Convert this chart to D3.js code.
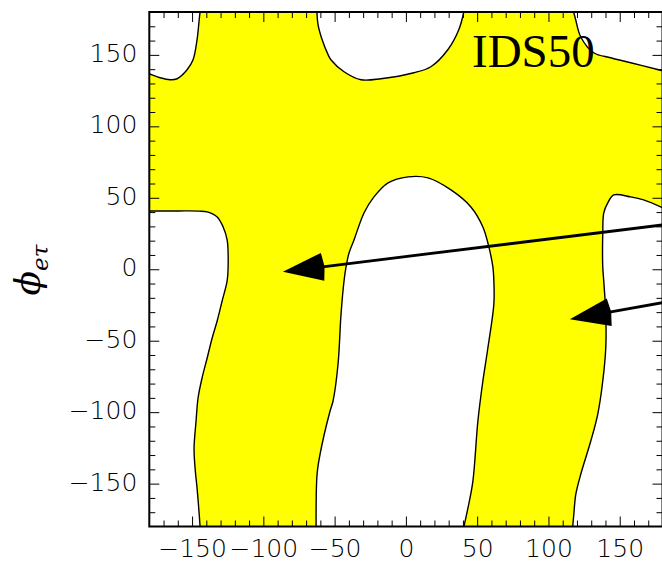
<!DOCTYPE html>
<html>
<head>
<meta charset="utf-8">
<script src="https://cdn.jsdelivr.net/npm/d3@7"></script>
<style>
  body { margin: 0; background: #fff; }
  .tick text { font-family: "DejaVu Sans", sans-serif; font-weight: 200; font-size: 25px; fill: #000; }
  .tick line { stroke: #000; stroke-width: 1; }
</style>
</head>
<body>
<svg id="plot" width="662" height="562"></svg>
<script>
    // Allowed (yellow) vs excluded (white) region in the (phi, phi_e_tau) plane
    // Each white region is a boundary, in degrees

    const majorTicks = [-150, -100, -50, 0, 50, 100, 150];
    const minorTicks = [-170, -160, -140, -130, -120, -110, -90, -80, -70, -60, -40, -30, -20, -10,
                        10, 20, 30, 40, 60, 70, 80, 90, 110, 120, 130, 140, 160, 170];

    // top-left white corner
    const regionA = [[-144.4, 180], [-145, 174.6], [-146.5, 160.6], [-149.3, 146.6], [-153.5, 139.6],
                     [-160.5, 133.3], [-165.4, 132.6], [-172.4, 134], [-178, 136], [-180, 136.8]];
    const cornersA = [[-180, 180]];

    // top-middle white cap
    const regionB = [[-62.4, 180], [-61.6, 171], [-58.8, 160.7], [-54.6, 150.2], [-52.6, 146.6],
                     [-43.4, 138.2], [-31.5, 132.6], [-17.5, 133.3], [5.6, 137.5], [17.5, 141.7],
                     [29.4, 153.6], [37.1, 167.6], [40.6, 180]];
    const cornersB = [];

    // top-right white corner
    const regionC = [[117.7, 180], [119.1, 174.6], [122.6, 162.7], [131.7, 151.5], [143.7, 148],
                     [157.7, 144.5], [177.3, 139.6], [180, 139]];
    const cornersC = [[180, 180]];

    // left white band
    const regionD = [[-180, 40.8], [-160, 40.8], [-145, 40.7], [-139.4, 40.1], [-132.4, 36.6],
                     [-128.2, 29.6], [-125.4, 20.5], [-124.7, 1.6], [-125.4, -8.2], [-128.9, -22.2],
                     [-132.4, -36.2], [-135.9, -48.1], [-139.4, -62.1], [-143, -76.1], [-145.8, -90.1],
                     [-147.2, -106.2], [-148.6, -125.1], [-147.9, -139.1], [-146.5, -153.1],
                     [-145, -171.4], [-144.4, -180]];
    const cornersD = [[-180, -180]];

    // central white tongue
    const regionE = [[-63, -180], [-62.3, -143.3], [-60.2, -129.3], [-53.2, -99.2], [-51.1, -92.2],
                     [-47.6, -66.3], [-45.5, -31.3], [-43.4, -8.2], [-42, 1.6], [-39.9, 11.4],
                     [-36.4, 20.5], [-29.4, 39.4], [-22.4, 50.6], [-12.5, 60.4], [1.5, 64.6],
                     [15.5, 63.9], [31.6, 55.5], [45.6, 43.6], [54, 29.6], [58.2, 15.6], [61, 1.6],
                     [61.7, -8.2], [61.7, -24.3], [57.5, -55.1], [54, -78.2], [50.5, -106.2],
                     [47, -148.2], [43.5, -167.2], [40.7, -180]];
    const cornersE = [];

    // right white band
    const regionF = [[117, -180], [117.8, -171.4], [119.2, -157.4], [122.7, -143.3], [129.7, -120.2],
                     [134.6, -101.3], [138.1, -78.2], [140.2, -55.1], [140.2, -31.3], [138.8, -8.2],
                     [138.1, 1.6], [138.1, 25.4], [138.8, 39.4], [141.6, 46.4], [145.8, 52],
                     [157.7, 50.6], [166.8, 48.5], [180, 43]];
    const cornersF = [[180, -180]];

    // arrows: tail (at right edge) -> tip
    const arrowTails = [[180, 31], [180, -23.4]];
    const arrowTips = [[-86.3, -1.7], [115, -35]];

    const panelLabel = "IDS50";

    // 0. svg + scales
    let svg = d3.select("svg#plot");
    let x = d3.scaleLinear().domain([-180, 180]).range([149.3, 662.5]);
    let y = d3.scaleLinear().domain([-180, 180]).range([526.5, 12]);

    svg.append("clipPath").attr("id", "clip")
      .append("rect")
      .attr("x", x(-180)).attr("y", y(180))
      .attr("width", x(180) - x(-180)).attr("height", y(-180) - y(180));

    let plot = svg.append("g").attr("clip-path", "url(#clip)");

    // 1. yellow background = allowed region
    plot.append("rect")
      .attr("x", x(-180)).attr("y", y(180))
      .attr("width", x(180) - x(-180)).attr("height", y(-180) - y(180))
      .style("fill", "#ffff00");

    // 2. white regions with black contour
    let curve = d3.line().x(d => x(d[0])).y(d => y(d[1])).curve(d3.curveCatmullRom.alpha(0.5));
    let regions = [[regionA, cornersA], [regionB, cornersB], [regionC, cornersC],
                   [regionD, cornersD], [regionE, cornersE], [regionF, cornersF]];

    regions.forEach(r => {
      let pts = r[0], corners = r[1];
      let fillPath = curve(pts) + corners.map(c => "L" + x(c[0]) + "," + y(c[1])).join("") + "Z";
      plot.append("path").attr("d", fillPath).style("fill", "#fff").style("stroke", "none");
    });
    regions.forEach(r => {
      plot.append("path").attr("d", curve(r[0]))
        .style("fill", "none").style("stroke", "#000").style("stroke-width", 1.4);
    });

    // 3. arrows (shaft + filled head, head built in pixel space)
    arrowTips.forEach((tip, i) => {
      let tail = arrowTails[i];
      let tx = x(tip[0]), ty = y(tip[1]);
      let sx = x(tail[0]), sy = y(tail[1]);
      let len = Math.hypot(sx - tx, sy - ty);
      let ux = (sx - tx) / len, uy = (sy - ty) / len;
      let headLen = 40, headHalf = 14;
      let bx = tx + ux * headLen, by = ty + uy * headLen;

      plot.append("line")
        .attr("x1", sx + ux * 20).attr("y1", sy + uy * 20)
        .attr("x2", bx - ux * 4).attr("y2", by - uy * 4)
        .style("stroke", "#000").style("stroke-width", 2.8);

      plot.append("path")
        .attr("d", "M" + tx + "," + ty +
                   "L" + (bx - uy * headHalf) + "," + (by + ux * headHalf) +
                   "L" + (bx + ux * 2) + "," + (by + uy * 2) +
                   "L" + (bx + uy * headHalf) + "," + (by - ux * headHalf) + "Z")
        .style("fill", "#000");
    });

    // 4. panel label
    svg.append("text")
      .attr("x", 472).attr("y", 67)
      .style("font-family", "'Liberation Serif', 'Times New Roman', serif")
      .style("font-size", "47px")
      .text(panelLabel);

    // 5. axes -- ticks point inward on all four sides
    function addAxis(axisFn, scale, transform, values, size, labels) {
      let ax = axisFn(scale).tickValues(values).tickSize(-size).tickSizeOuter(0);
      if (labels) ax.tickPadding(labels).tickFormat(d3.format("d"));
      else ax.tickFormat("");
      let g = svg.append("g").attr("transform", transform).call(ax);
      g.select(".domain").remove();
      return g;
    }

    let left = addAxis(d3.axisLeft, y, "translate(" + x(-180) + ",0)", majorTicks, 10, 12);
    left.selectAll("text").attr("dy", "0.26em");
    addAxis(d3.axisLeft, y, "translate(" + x(-180) + ",0)", minorTicks, 6);
    addAxis(d3.axisBottom, x, "translate(0," + y(-180) + ")", majorTicks, 10, 13);
    addAxis(d3.axisBottom, x, "translate(0," + y(-180) + ")", minorTicks, 6);
    addAxis(d3.axisTop, x, "translate(0," + y(180) + ")", majorTicks, 10);
    addAxis(d3.axisTop, x, "translate(0," + y(180) + ")", minorTicks, 6);
    addAxis(d3.axisRight, y, "translate(" + x(180) + ",0)", majorTicks, 10);
    addAxis(d3.axisRight, y, "translate(" + x(180) + ",0)", minorTicks, 6);

    // frame
    svg.append("rect")
      .attr("x", x(-180)).attr("y", y(180))
      .attr("width", x(180) - x(-180)).attr("height", y(-180) - y(180))
      .style("fill", "none").style("stroke", "#000").style("stroke-width", 2);

    // 6. y axis label  phi_{e tau}
    let ylab = svg.append("text")
      .attr("transform", "translate(40,270) rotate(-90)")
      .attr("text-anchor", "middle")
      .style("font-family", "'DejaVu Serif', serif");
    ylab.append("tspan").style("font-style", "italic").style("font-size", "36px").text("ϕ");
    ylab.append("tspan").attr("dy", 8).style("font-style", "italic").style("font-size", "23px").text("eτ");
</script>
</body>
</html>
